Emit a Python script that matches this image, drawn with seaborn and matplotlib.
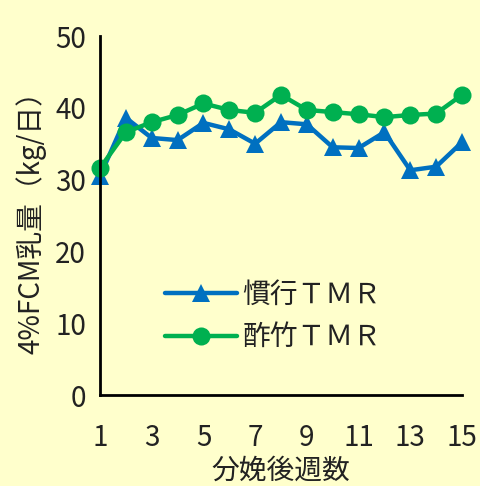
import seaborn as sns
import matplotlib.pyplot as plt
import pandas as pd

weeks = list(range(1, 16))
conventional = [30.5, 38.6, 35.8, 35.5, 37.9, 37.0, 35.0, 38.0, 37.7, 34.5, 34.4, 36.6, 31.3, 31.8, 35.2]
vinegar = [31.6, 36.6, 38.0, 39.0, 40.6, 39.7, 39.3, 41.8, 39.7, 39.4, 39.1, 38.7, 39.0, 39.2, 41.8]
series_names = ["慣行ＴＭＲ", "酢竹ＴＭＲ"]
xticks = [1, 3, 5, 7, 9, 11, 13, 15]
yticks = [0, 10, 20, 30, 40, 50]

df = pd.DataFrame({
    "week": weeks * 2,
    "value": conventional + vinegar,
    "group": [series_names[0]] * len(weeks) + [series_names[1]] * len(weeks),
})

bg = "#FFFFCC"
sns.set_theme(style="white", rc={"axes.facecolor": bg, "figure.facecolor": bg})
plt.rcParams["font.family"] = ["Noto Sans CJK JP", "DejaVu Sans"]

fig = plt.figure(figsize=(4.8, 4.86), dpi=100)
ax = fig.add_axes([100 / 480, 91 / 486, 362 / 480, 359 / 486])

sns.lineplot(data=df, x="week", y="value", hue="group", style="group",
             palette=["#0070C0", "#00B050"], markers=["^", "o"], dashes=False,
             lw=3.2, markersize=13, markeredgewidth=0, ax=ax, clip_on=False)

ax.set_xlim(1, 15)
ax.set_ylim(0, 50)
ax.set_xticks(xticks)
ax.set_yticks(yticks)
ax.tick_params(direction="in", length=6, width=1.5, labelsize=20, colors="#222222",
               pad=10)
ax.tick_params(axis="x", pad=20)
for s in ["top", "right"]:
    ax.spines[s].set_visible(False)
for s in ["left", "bottom"]:
    ax.spines[s].set_linewidth(2)
    ax.spines[s].set_color("black")

ax.set_xlabel("分娩後週数", fontsize=20, color="#222222", labelpad=2)
ax.set_ylabel("4%FCM乳量（kg/日）", fontsize=20, color="#222222", labelpad=6)

leg = ax.legend(loc="center left", bbox_to_anchor=(0.11, 0.22), frameon=False,
                fontsize=20, handlelength=2.6, handletextpad=0.2, labelspacing=0.45)
for t in leg.get_texts():
    t.set_color("#222222")

fig.savefig("out.png", dpi=100, facecolor=bg)
